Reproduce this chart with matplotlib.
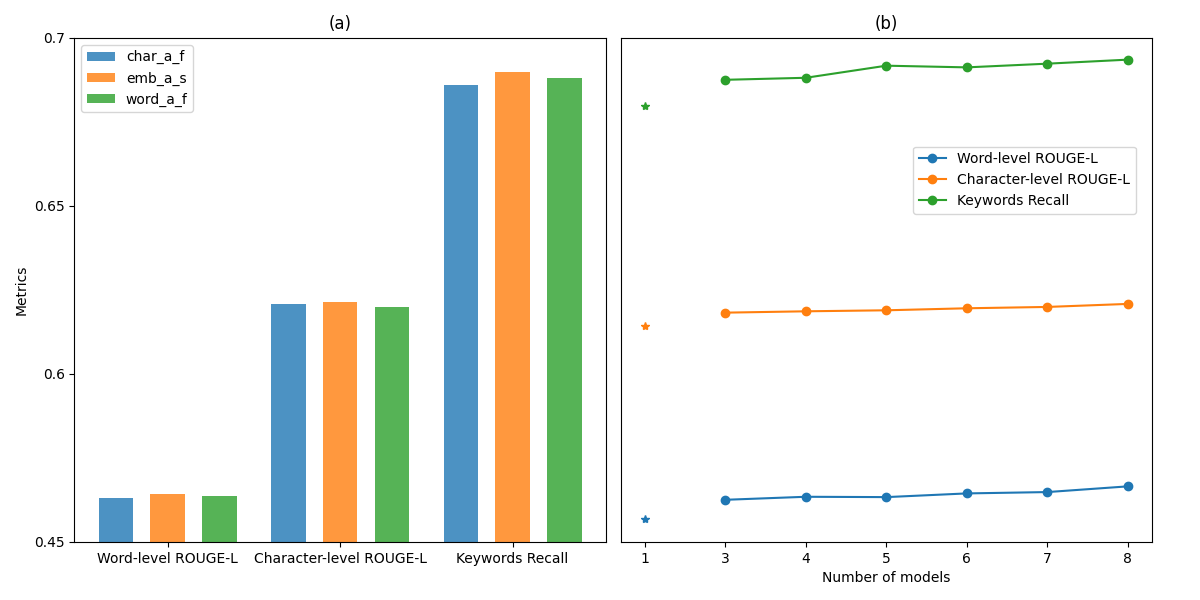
import numpy as np
import matplotlib
matplotlib.use("Agg")
import matplotlib.pyplot as plt

# (a) bar data
metrics = ["Word-level ROUGE-L", "Character-level ROUGE-L", "Keywords Recall"]
char_a_f = [0.4631, 0.6208, 0.6860]
emb_a_s = [0.4643, 0.6214, 0.6899]
word_a_f = [0.4637, 0.6199, 0.6881]

# (b) line data, x is categorical (1, 3, 4, ... 8 equally spaced)
model_labels = ["1", "3", "4", "5", "6", "7", "8"]
word_rouge = [0.4625, 0.4634, 0.4633, 0.4644, 0.4648, 0.4665]
char_rouge = [0.6182, 0.6186, 0.6189, 0.6195, 0.6199, 0.6208]
kw_recall = [0.6875, 0.6881, 0.6917, 0.6912, 0.6923, 0.6935]
# single model results (stars)
single_word = 0.4568
single_char = 0.6143
single_kw = 0.6798

# word-level values are lifted by 0.1 so they fit on the same axis
offset = 0.1

fig, (ax1, ax2) = plt.subplots(1, 2, figsize=(12, 6), dpi=100)
plt.subplots_adjust(left=0.062, right=0.96, top=0.937, bottom=0.097, wspace=0.028)

x = np.arange(len(metrics))
shift = np.array([offset, 0, 0])
w = 0.2
ax1.bar(x - 0.3, np.array(char_a_f) + shift, w, color="tab:blue", alpha=0.8, label="char_a_f")
ax1.bar(x, np.array(emb_a_s) + shift, w, color="tab:orange", alpha=0.8, label="emb_a_s")
ax1.bar(x + 0.3, np.array(word_a_f) + shift, w, color="tab:green", alpha=0.8, label="word_a_f")
ax1.set_xticks(x)
ax1.set_xticklabels(metrics)
ax1.set_ylim(0.55, 0.7)
ax1.set_yticks([0.55, 0.6, 0.65, 0.7])
ax1.set_yticklabels(["0.45", "0.6", "0.65", "0.7"])
ax1.set_ylabel("Metrics")
ax1.set_title("(a)")
ax1.legend(loc="upper left")

pos = np.arange(len(model_labels))
ax2.plot(pos[1:], np.array(word_rouge) + offset, marker="o", color="tab:blue", label="Word-level ROUGE-L")
ax2.plot(pos[1:], char_rouge, marker="o", color="tab:orange", label="Character-level ROUGE-L")
ax2.plot(pos[1:], kw_recall, marker="o", color="tab:green", label="Keywords Recall")
ax2.plot(pos[:1], [single_word + offset], marker="*", color="tab:blue", linestyle="none")
ax2.plot(pos[:1], [single_char], marker="*", color="tab:orange", linestyle="none")
ax2.plot(pos[:1], [single_kw], marker="*", color="tab:green", linestyle="none")
ax2.set_xticks(pos)
ax2.set_xticklabels(model_labels)
ax2.set_ylim(0.55, 0.7)
ax2.set_yticks([])
ax2.set_xlabel("Number of models")
ax2.set_title("(b)")
ax2.legend(loc="upper right", bbox_to_anchor=(0.983, 0.798))

plt.savefig("out.png")
